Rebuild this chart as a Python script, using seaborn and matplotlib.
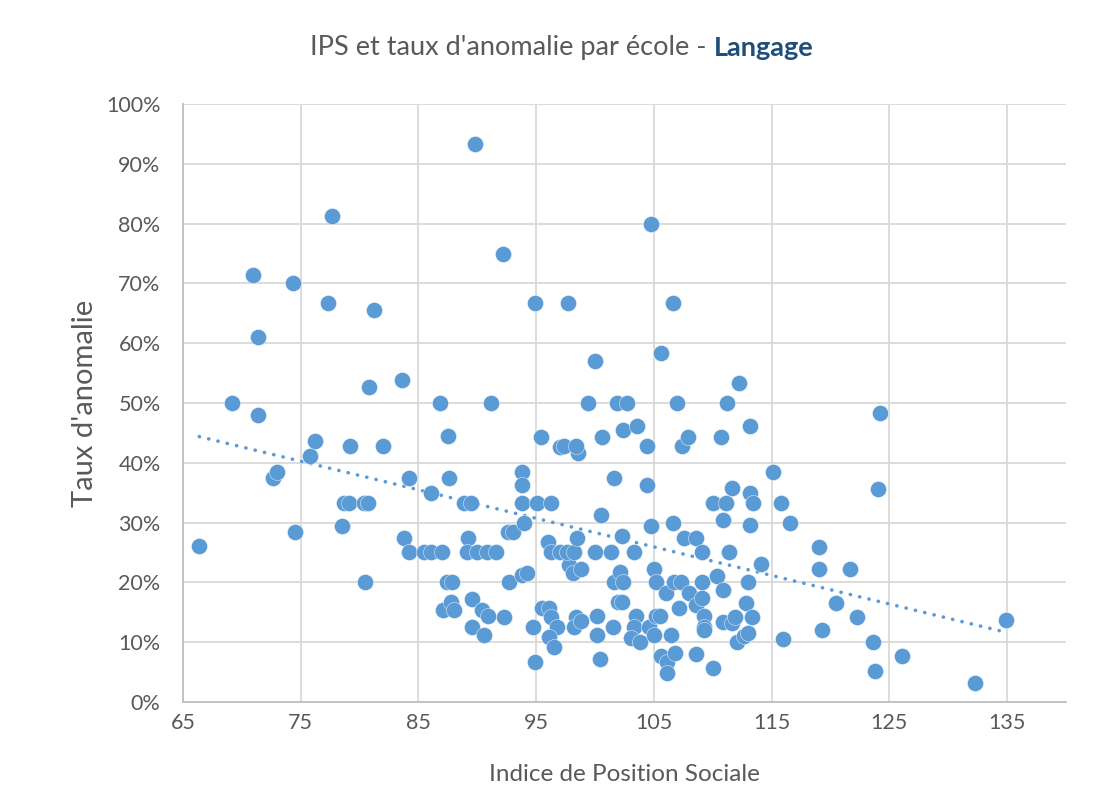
import numpy as np
import pandas as pd
import seaborn as sns
import matplotlib.pyplot as plt
from matplotlib.ticker import PercentFormatter, MultipleLocator

# Données : IPS de l'école et taux d'anomalie (%) en langage
ips = [
    66.4, 69.2, 71.0, 71.4, 71.4, 72.7, 73.0, 74.4, 74.5, 75.8,
    76.2, 77.3, 77.7, 78.5, 78.7, 79.1, 79.2, 80.4, 80.7, 80.5,
    80.8, 81.2, 82.0, 83.6, 83.8, 84.2, 84.2, 85.5, 86.1, 86.1,
    86.8, 87.0, 87.1, 87.5, 87.4, 87.6, 87.9, 87.8, 88.0, 88.9,
    89.2, 89.1, 89.5, 89.6, 89.6, 89.8, 90.0, 90.4, 90.6, 90.8,
    90.9, 91.2, 91.6, 92.2, 92.3, 92.6, 93.0, 92.7, 93.8, 94.2,
    93.8, 93.8, 93.8, 94.0, 94.7, 94.9, 94.9, 95.1, 95.4, 95.5,
    96.0, 96.1, 96.3, 96.3, 96.3, 96.8, 96.1, 96.5, 97.0, 97.0,
    97.7, 97.4, 97.8, 97.6, 98.1, 98.2, 98.4, 98.2, 98.8, 98.5,
    98.6, 98.4, 98.8, 99.4, 100.0, 100.0, 100.2, 100.2, 100.4, 100.5,
    100.6, 101.4, 101.5, 101.6, 101.6, 101.9, 102.0, 102.3, 102.1, 102.4,
    102.3, 102.4, 102.7, 103.3, 103.5, 103.3, 103.1, 103.6, 103.8, 104.4,
    104.4, 104.6, 104.8, 104.8, 105.0, 105.2, 105.2, 105.5, 105.0, 105.6,
    105.6, 106.1, 106.1, 106.0, 106.5, 106.6, 106.6, 106.7, 106.8, 107.0,
    107.1, 107.3, 107.4, 107.6, 107.9, 108.0, 108.6, 108.6, 108.6, 109.1,
    109.1, 109.1, 109.3, 109.3, 109.3, 110.0, 110.0, 110.4, 110.7, 110.9,
    110.9, 110.9, 111.1, 111.2, 111.4, 111.6, 111.6, 111.9, 112.1, 112.2,
    112.7, 112.8, 113.0, 113.0, 113.2, 113.2, 113.2, 113.3, 113.4, 114.1,
    115.1, 115.8, 116.0, 116.6, 119.0, 119.0, 119.3, 120.5, 121.7, 122.3,
    123.6, 123.8, 124.0, 124.2, 126.1, 132.3, 134.9,
]
taux = [
    26.1, 50.0, 71.4, 61.0, 48.0, 37.5, 38.5, 70.0, 28.4, 41.1,
    43.7, 66.7, 81.2, 29.4, 33.3, 33.3, 42.8, 33.3, 33.3, 20.0,
    52.6, 65.5, 42.8, 53.9, 27.4, 37.5, 25.0, 25.0, 35.0, 25.0,
    50.0, 25.0, 15.4, 44.4, 20.0, 37.5, 20.0, 16.7, 15.4, 33.3,
    27.4, 25.0, 33.3, 17.2, 12.5, 93.3, 25.0, 15.4, 11.2, 25.0,
    14.4, 50.0, 25.0, 75.0, 14.2, 28.5, 28.5, 20.0, 21.2, 21.5,
    38.5, 36.3, 33.3, 30.0, 12.5, 6.7, 66.7, 33.3, 44.3, 15.7,
    26.7, 15.7, 14.2, 33.3, 25.0, 12.5, 10.9, 9.2, 42.6, 25.0,
    66.7, 42.8, 22.9, 25.0, 21.6, 25.0, 14.2, 12.5, 13.5, 27.4,
    41.6, 42.8, 22.2, 50.0, 57.1, 25.0, 14.4, 11.2, 7.2, 31.3,
    44.3, 25.0, 12.5, 37.5, 20.0, 50.0, 16.7, 16.7, 21.7, 20.0,
    27.8, 45.5, 50.0, 25.0, 14.4, 12.5, 10.7, 46.2, 10.0, 42.8,
    36.3, 12.5, 80.0, 29.4, 22.2, 20.0, 14.4, 14.4, 11.2, 58.3,
    7.7, 6.7, 4.8, 18.2, 11.2, 66.7, 30.0, 20.0, 8.2, 50.0,
    15.7, 20.0, 42.8, 27.4, 44.3, 18.2, 27.4, 16.2, 8.0, 25.0,
    17.4, 20.0, 14.4, 12.5, 12.0, 33.3, 5.7, 21.0, 44.3, 30.4,
    18.7, 13.4, 33.3, 50.0, 25.0, 35.8, 13.2, 14.2, 10.0, 53.3,
    11.0, 16.6, 11.5, 20.0, 46.2, 35.0, 29.6, 14.2, 33.3, 23.1,
    38.5, 33.3, 10.5, 30.0, 25.9, 22.2, 12.0, 16.6, 22.2, 14.2,
    10.0, 5.2, 35.6, 48.3, 7.7, 3.2, 13.7,
]

df = pd.DataFrame({"ips": ips, "taux": taux})

sns.set_theme(style="white")
plt.rcParams["font.family"] = ["Lato", "DejaVu Sans"]

gris = "#595959"
bleu = "#5B9BD5"

fig = plt.figure(figsize=(11.08, 8.09), dpi=100)
ax = fig.add_axes([0.165, 0.1323, 0.797, 0.7391])

sns.scatterplot(data=df, x="ips", y="taux", ax=ax, s=135, color=bleu,
                edgecolor="white", linewidth=0.3, zorder=3)
sns.regplot(data=df, x="ips", y="taux", ax=ax, scatter=False, ci=None,
            line_kws={"color": bleu, "lw": 2.6, "linestyle": (0, (0.05, 2.6)),
                      "dash_capstyle": "round", "zorder": 2})

ax.set_xlim(65, 140)
ax.set_ylim(0, 100)
ax.set_xticks(np.arange(65, 136, 10))
ax.yaxis.set_major_locator(MultipleLocator(10))
ax.yaxis.set_major_formatter(PercentFormatter(xmax=100, decimals=0))

ax.grid(True, color="#D9D9D9", lw=1.3)
ax.set_axisbelow(True)
for s in ["top", "right"]:
    ax.spines[s].set_visible(False)
for s in ["left", "bottom"]:
    ax.spines[s].set_color("#BFBFBF")
    ax.spines[s].set_linewidth(1.3)

ax.tick_params(axis="both", length=0, labelsize=15.5, labelcolor=gris)
ax.tick_params(axis="y", pad=16)
ax.tick_params(axis="x", pad=8)

ax.set_xlabel("Indice de Position Sociale", fontsize=17.5, color=gris, labelpad=22)
ax.set_ylabel("Taux d'anomalie", fontsize=21, color=gris, labelpad=6)

# titre en deux morceaux : partie normale + "Langage" en gras
t1 = fig.text(0, 0, "IPS et taux d'anomalie par école - ", fontsize=19.5, color=gris,
              va="center", ha="left")
t2 = fig.text(0, 0, "Langage", fontsize=19.5, color="#1F4E79", fontweight="bold",
              va="center", ha="left")
fig.canvas.draw()
r = fig.canvas.get_renderer()
w1 = t1.get_window_extent(r).width
w2 = t2.get_window_extent(r).width
W = fig.bbox.width
x0 = 562 - (w1 + w2) / 2
yt = 1 - 48 / 809
t1.set_position((x0 / W, yt))
t2.set_position(((x0 + w1) / W, yt))

fig.savefig("out.png", dpi=100)
